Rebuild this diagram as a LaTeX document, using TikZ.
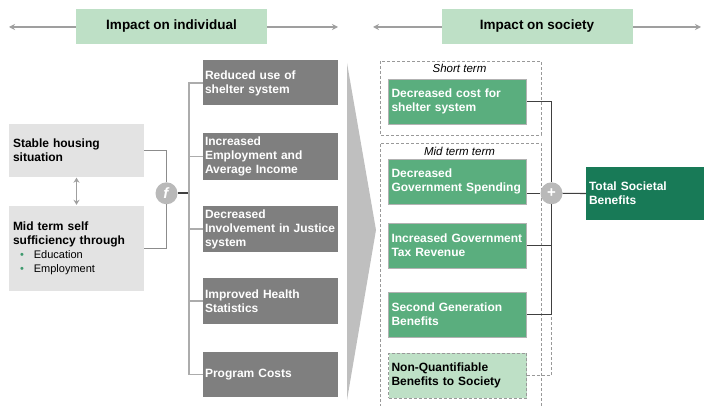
\documentclass[tikz,border=0pt]{standalone}
\usepackage{fontspec}
\setmainfont{Liberation Sans}
\usetikzlibrary{arrows.meta}
\definecolor{lightgreen}{HTML}{BEE0C6}
\definecolor{midgreen}{HTML}{5AAE7E}
\definecolor{darkgreen}{HTML}{187A57}
\definecolor{boxgray}{HTML}{E3E3E3}
\definecolor{darkbox}{HTML}{7F7F7F}
\definecolor{dotgreen}{HTML}{3E9A6E}
\begin{document}
\begin{tikzpicture}[x=1pt,y=-1pt,
    every node/.style={font=\bfseries\fontsize{12}{14}\selectfont},
    hdr/.style={fill=lightgreen,minimum width=191pt,minimum height=35pt,font=\bfseries\fontsize{13.5}{16}\selectfont},
    hdrarrow/.style={draw=gray!75,line width=1.5pt,{Stealth[length=6pt,width=6pt]}-{Stealth[length=6pt,width=6pt]}},
    lbox/.style={fill=boxgray,text width=127pt,inner xsep=4pt,inner ysep=0pt,align=left},
    ibox/.style={fill=darkbox,text=white,text width=131pt,inner xsep=2pt,inner ysep=0pt,align=left,minimum height=45pt},
    sbox/.style={fill=midgreen,draw=gray!60,line width=0.6pt,text=white,text width=132pt,inner xsep=3pt,inner ysep=0pt,align=left,minimum height=45pt},
    frame/.style={draw=gray!80,line width=0.7pt,dash pattern=on 3pt off 2pt},
    tag/.style={font=\itshape\fontsize{11.5}{13}\selectfont},
    op/.style={circle,fill=gray!55,text=white,minimum size=22pt,inner sep=0pt,font=\bfseries\fontsize{15}{15}\selectfont},
    feed/.style={draw=gray!90,line width=1.3pt},
    branch/.style={draw=gray!65,line width=1.5pt},
    sum/.style={draw=black!75,line width=1.1pt}]
  \useasboundingbox (0,0) rectangle (704,406);
  \fill[gray!50] (347,63) -- (376,230) -- (347,400) -- cycle;

  \coordinate (l1) at (9,27);
  \coordinate (l2) at (338,27);
  \coordinate (r1) at (373,27);
  \coordinate (r2) at (701,27);
  \draw[hdrarrow] (l1) -- (l2);
  \draw[hdrarrow] (r1) -- (r2);
  \node[hdr] (indiv) at (171.5,26.5) {Impact on individual};
  \node[hdr] (soc) at (537,26.5) {Impact on society};

  \node[lbox,minimum height=53pt] (house) at (76.5,150.5) {Stable housing\\situation};
  \node[lbox,minimum height=85pt] (self) at (76.5,248.5) {Mid term self\\sufficiency through\\
    \hspace*{7pt}{\mdseries\fontsize{11}{14}\selectfont{\color{dotgreen}\textbullet}\hspace{10pt}Education}\\
    \hspace*{7pt}{\mdseries\fontsize{11}{14}\selectfont{\color{dotgreen}\textbullet}\hspace{10pt}Employment}};
  \draw[gray!75,line width=1.5pt,{Stealth[length=5pt,width=6pt]}-{Stealth[length=5pt,width=6pt]},shorten <=0.5pt,shorten >=1pt] (house.south) -- (self.north);

  \node[op] (f) at (166.5,193.3) {\textit{f}};
  \draw[feed] (house.east) -| (f.north);
  \draw[feed] (self.east) -| (f.south);
  \coordinate (bus) at (189,193.3);
  \draw[black!75,line width=2pt] (f.east) -- (bus);

  \node[ibox] (shelter) at (270.5,83) {Reduced use of\\shelter system};
  \node[ibox,minimum height=47pt] (employ) at (270.5,156.5) {Increased\\Employment and\\Average Income};
  \node[ibox,minimum height=46pt] (justice) at (270.5,229) {Decreased\\Involvement in Justice\\system};
  \node[ibox,minimum height=46pt] (health) at (270.5,301) {Improved Health\\Statistics};
  \node[ibox] (costs) at (270.5,374.5) {Program Costs};
  \foreach \b in {shelter,employ,justice,health,costs}
    \draw[branch] (bus) |- (\b.west);

  \draw[frame] (380,61) rectangle (541,135);
  \draw[frame] (380,412) |- (541,143) -- (541,412);
  \node[tag] (short) at (459.5,68) {Short term};
  \node[tag] (mid) at (459.5,151) {Mid term term};

  \node[sbox] (cost) at (457.5,101.5) {Decreased cost for\\shelter system};
  \node[sbox] (spend) at (457.5,181.5) {Decreased\\Government Spending};
  \node[sbox] (tax) at (457.5,245.5) {Increased Government\\Tax Revenue};
  \node[sbox] (second) at (457.5,314.5) {Second Generation\\Benefits};
  \node[sbox,fill=lightgreen,text=black,frame] (nonq) at (457.5,375.5) {Non-Quantifiable\\Benefits to Society};

  \node[op] (plus) at (551.5,193.3) {+};
  \node[fill=darkgreen,text=white,text width=114pt,inner xsep=3pt,align=left,minimum height=53pt] (total) at (646,193.5) {Total Societal\\Benefits};

  \draw[sum] (cost.east) -| (plus.north);
  \draw[sum] (spend.east |- plus) -- (plus.west);
  \draw[sum,frame] (nonq.east) -| (plus.south);
  \draw[sum] (tax.east) -| (plus.south);
  \draw[sum] (second.east) -| (plus.south);
  \draw[sum] (plus.east) -- (total.west);
\end{tikzpicture}
\end{document}
